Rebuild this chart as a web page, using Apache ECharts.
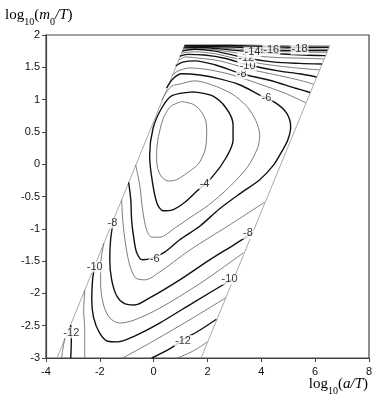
<!DOCTYPE html>
<html>
<head>
<meta charset="utf-8">
<script src="https://cdn.jsdelivr.net/npm/echarts@6/dist/echarts.min.js"></script>
<style>
html, body { margin: 0; padding: 0; background: #fff; }
#main { width: 382px; height: 407px; }
</style>
</head>
<body>
<div id="main"></div>
<script>
// axis ranges / ticks
var xTicks = [-4, -2, 0, 2, 4, 6, 8];
var yTicks = [-3, -2.5, -2, -1.5, -1, -0.5, 0, 0.5, 1, 1.5, 2];

// edges of the computed region
var leftEdge = [[-3.59, -3], [1.16, 1.845]];
var rightEdge = [[1.76, -3], [6.55, 1.845]];

// contour lines (x = log10(a/T), y = log10(m0/T))
var c3 = [[1.04,0.97],[1.45,0.93],[1.72,0.84],[1.93,0.68],[1.97,0.50],[1.91,0.22],[1.65,0.00],[1.23,-0.14],[0.85,-0.24],[0.54,-0.26],[0.25,-0.17],[0.11,0.05],[0.13,0.30],[0.25,0.56],[0.40,0.75],[0.65,0.90],[1.04,0.97]];
var c4 = [[1.46,1.12],[2.17,1.06],[2.69,0.87],[2.95,0.61],[2.95,0.37],[2.69,0.10],[2.17,-0.20],[1.65,-0.40],[1.16,-0.59],[0.68,-0.71],[0.35,-0.72],[0.12,-0.60],[-0.06,-0.24],[-0.15,0.14],[-0.02,0.56],[0.30,0.87],[0.68,1.06],[1.46,1.12]];
var c5 = [[-0.67,-0.01],[-0.52,-0.32],[-0.41,-0.71],[-0.26,-1.02],[-0.07,-1.13],[0.22,-1.13],[0.78,-0.99],[1.34,-0.83],[2.08,-0.62],[2.82,-0.35],[3.49,-0.04],[3.86,0.25],[3.94,0.45],[3.79,0.68],[3.45,0.90],[2.90,1.09],[2.15,1.23],[1.52,1.29],[0.97,1.24],[0.67,1.21],[0.45,1.10],[0.30,0.99]];
var c6 = [[0.48,1.18],[0.71,1.32],[1.04,1.40],[1.71,1.38],[2.45,1.32],[3.19,1.23],[3.94,1.07],[4.53,0.95],[4.94,0.79],[5.09,0.58],[4.98,0.37],[4.75,0.19],[4.46,-0.01],[3.94,-0.24],[3.19,-0.46],[2.45,-0.69],[1.71,-0.96],[0.97,-1.17],[0.41,-1.36],[-0.04,-1.45],[-0.41,-1.48],[-0.63,-1.37],[-0.74,-1.14],[-0.82,-0.86],[-0.85,-0.55],[-0.93,-0.28]];
var c7top = [[0.67,1.37],[0.89,1.44],[1.34,1.49],[2.08,1.46],[2.93,1.38],[3.94,1.24],[4.87,1.10],[5.65,0.95]];
var c7low = [[-1.19,-0.55],[-1.15,-0.86],[-1.04,-1.25],[-0.89,-1.56],[-0.67,-1.76],[-0.33,-1.79],[0.22,-1.67],[1.34,-1.33],[2.82,-0.94],[4.12,-0.59]];
var c8top = [[0.82,1.52],[1.08,1.58],[1.52,1.60],[2.27,1.54],[3.27,1.40],[4.31,1.30],[5.24,1.18],[5.81,1.11]];
var c8low = [[-1.49,-0.86],[-1.60,-1.17],[-1.63,-1.48],[-1.56,-1.79],[-1.37,-2.04],[-1.08,-2.16],[-0.71,-2.18],[-0.15,-2.07],[0.97,-1.79],[2.08,-1.48],[3.01,-1.24],[3.64,-1.07]];
var c9top = [[0.93,1.61],[1.19,1.66],[1.71,1.64],[2.45,1.60],[3.57,1.47],[4.68,1.37],[5.42,1.30],[5.94,1.24]];
var c9low = [[-1.85,-1.22],[-1.97,-1.56],[-1.97,-1.87],[-1.86,-2.18],[-1.63,-2.38],[-1.26,-2.46],[-0.71,-2.41],[0.22,-2.23],[1.71,-1.85],[2.64,-1.58],[3.34,-1.37]];
var c10top = [[0.97,1.67],[1.26,1.70],[1.89,1.69],[2.64,1.64],[3.49,1.54],[4.68,1.44],[5.42,1.40],[6.05,1.35]];
var c10low = [[-2.18,-1.56],[-2.27,-1.79],[-2.30,-2.10],[-2.23,-2.38],[-2.01,-2.61],[-1.71,-2.74],[-1.34,-2.75],[-0.71,-2.66],[0.22,-2.46],[1.52,-2.13],[2.93,-1.78]];
var c11top = [[1.04,1.72],[1.52,1.74],[2.27,1.71],[3.01,1.64],[3.94,1.56],[5.05,1.50],[6.16,1.46]];
var c11left = [[-2.56,-1.95],[-2.60,-2.26],[-2.56,-2.57],[-2.56,-3.00]];
var c11right = [[-1.15,-3.00],[-0.15,-2.77],[0.97,-2.50],[1.89,-2.27],[2.67,-2.07]];
var c12top = [[1.06,1.75],[1.52,1.78],[2.27,1.75],[3.49,1.64],[4.49,1.58],[5.42,1.56],[6.25,1.55]];
var c12left = [[-3.08,-2.49],[-3.06,-2.72],[-3.08,-3.00]];
var c12right = [[-0.07,-3.00],[0.59,-2.86],[1.08,-2.72],[1.71,-2.57],[2.33,-2.40]];
var c13top = [[1.08,1.78],[1.71,1.79],[2.82,1.74],[3.68,1.68],[4.68,1.65],[5.61,1.64],[6.32,1.63]];
var c13left = [[-3.30,-2.69],[-3.38,-2.88],[-3.42,-3.00]];
var c13right = [[0.89,-3.00],[1.52,-2.88],[1.99,-2.75]];
var c14 = [[1.11,1.80],[1.71,1.81],[2.82,1.77],[3.68,1.74],[4.68,1.71],[5.61,1.69],[6.38,1.68]];
var c15 = [[1.13,1.81],[1.71,1.82],[2.82,1.79],[3.94,1.76],[5.05,1.74],[6.43,1.73]];
var c16 = [[1.14,1.83],[2.08,1.82],[3.19,1.81],[4.38,1.77],[5.42,1.76],[6.45,1.76]];
var c17 = [[1.14,1.83],[2.45,1.83],[3.94,1.81],[5.05,1.79],[6.48,1.78]];
var c18 = [[1.15,1.84],[2.82,1.84],[4.31,1.82],[5.42,1.81],[6.50,1.81]];
var c19 = [[1.15,1.84],[3.19,1.845],[4.68,1.835],[6.52,1.83]];

var pieces = [
  [-3, c3], [-4, c4], [-5, c5], [-6, c6],
  [-7, c7top], [-7, c7low], [-8, c8top], [-8, c8low],
  [-9, c9top], [-9, c9low], [-10, c10top], [-10, c10low],
  [-11, c11top], [-11, c11left], [-11, c11right],
  [-12, c12top], [-12, c12left], [-12, c12right],
  [-13, c13top], [-13, c13left], [-13, c13right],
  [-14, c14], [-15, c15], [-16, c16], [-17, c17], [-18, c18], [-19, c19]
];

// contour labels [x, y, text]
var labelPts = [
  [1.89, -0.30, '-4'],
  [0.04, -1.46, '-6'],
  [4.19, 1.02, '-6'],
  [3.27, 1.40, '-8'],
  [-1.53, -0.91, '-8'],
  [3.50, -1.07, '-8'],
  [3.49, 1.52, '-10'],
  [-2.19, -1.59, '-10'],
  [2.82, -1.78, '-10'],
  [3.44, 1.65, '-12'],
  [-3.06, -2.61, '-12'],
  [1.09, -2.73, '-12'],
  [3.67, 1.73, '-14'],
  [4.37, 1.77, '-16'],
  [5.42, 1.78, '-18']
];

var chart = echarts.init(document.getElementById('main'));

var series = [];
pieces.forEach(function (p) {
  var thick = p[0] % 2 === 0;
  series.push({
    type: 'line',
    data: p[1],
    showSymbol: false,
    smooth: 0.3,
    silent: true,
    z: thick ? 3 : 2,
    lineStyle: thick ? { color: '#111', width: 1.4 } : { color: '#5a5a5a', width: 0.8 }
  });
});
[leftEdge, rightEdge].forEach(function (e) {
  series.push({
    type: 'line', data: e, showSymbol: false, silent: true, z: 1,
    lineStyle: { color: '#aaa', width: 1 }
  });
});
series.push({
  type: 'scatter',
  data: labelPts,
  symbolSize: 1,
  itemStyle: { color: 'rgba(0,0,0,0)' },
  silent: true,
  z: 10,
  label: {
    show: true,
    position: 'inside',
    formatter: function (d) { return d.value[2]; },
    fontFamily: 'Liberation Sans',
    fontSize: 11,
    color: '#000',
    backgroundColor: '#fff',
    padding: [0, 1]
  }
});

var serif = 'Liberation Serif';
var nameRich = {
  n: { fontFamily: serif, fontSize: 15, lineHeight: 16, verticalAlign: 'top', color: '#000' },
  i: { fontFamily: serif, fontSize: 15, fontStyle: 'italic', lineHeight: 16, verticalAlign: 'top', color: '#000' },
  s: { fontFamily: serif, fontSize: 10, lineHeight: 19, verticalAlign: 'bottom', color: '#000' }
};

chart.setOption({
  animation: false,
  backgroundColor: '#fff',
  grid: {
    left: 46, right: 13, top: 35, bottom: 49,
    show: true, borderColor: '#444', borderWidth: 1.2
  },
  xAxis: {
    type: 'value',
    min: xTicks[0], max: xTicks[xTicks.length - 1], interval: 2,
    axisLine: { show: true, onZero: false, lineStyle: { color: '#444', width: 1.2 } },
    axisTick: { show: true, length: 4, lineStyle: { color: '#444' } },
    axisLabel: { fontFamily: 'Liberation Sans', fontSize: 11, color: '#111', margin: 8 },
    splitLine: { show: false }
  },
  yAxis: {
    type: 'value',
    min: yTicks[0], max: yTicks[yTicks.length - 1], interval: 0.5,
    axisLine: { show: true, onZero: false, lineStyle: { color: '#444', width: 1.2 } },
    axisTick: { show: true, length: 4, lineStyle: { color: '#444' } },
    axisLabel: { fontFamily: 'Liberation Sans', fontSize: 11, color: '#111', margin: 6 },
    splitLine: { show: false }
  },
  graphic: [
    {
      type: 'text', left: 5, top: 8,
      style: { text: '{n|log}{s|10}{n|(}{i|m}{s|0}{i|/T}{n|)}', rich: nameRich }
    },
    {
      type: 'text', right: 14, top: 377,
      style: { text: '{n|log}{s|10}{n|(}{i|a/T}{n|)}', rich: nameRich }
    }
  ],
  series: series
});
</script>
</body>
</html>
